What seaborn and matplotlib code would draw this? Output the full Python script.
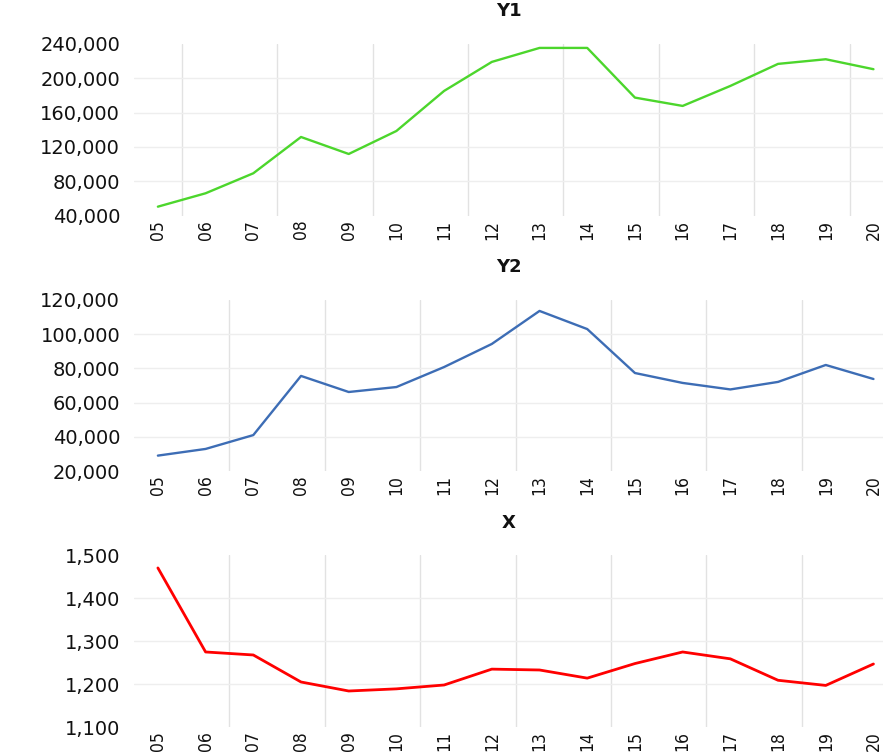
import numpy as np
import pandas as pd
import seaborn as sns
import matplotlib.pyplot as plt
from matplotlib.ticker import FuncFormatter, FixedLocator

years = ["05", "06", "07", "08", "09", "10", "11", "12",
         "13", "14", "15", "16", "17", "18", "19", "20"]
y1 = [50400, 66000, 89300, 131600, 111800, 138600, 185300, 219100,
      235400, 235400, 177500, 167800, 191100, 216800, 222200, 210600]
y2 = [29000, 32900, 41000, 75600, 66200, 69100, 80800, 94300,
      113600, 103000, 77300, 71500, 67700, 72100, 82000, 73800]
x_vals = [1471, 1275, 1268, 1205, 1184, 1189, 1198, 1235,
          1233, 1214, 1248, 1275, 1259, 1209, 1197, 1247]

df = pd.DataFrame({"year": years, "Y1": y1, "Y2": y2, "X": x_vals})

sns.set_theme(style="white")
plt.rcParams['font.family'] = ['DejaVu Sans']

fig = plt.figure(figsize=(8.83, 7.53), dpi=100)

# (column, colour, line width, ylim, yticks, axes rect, minor grid start)
panels = [
    ("Y1", "#4cd62c", 1.7, (40000, 240000), np.arange(40000, 240001, 40000),
     [0.1518, 0.7137, 0.8482, 0.2279], 0.5),
    ("Y2", "#3d6db5", 1.7, (20000, 120000), np.arange(20000, 120001, 20000),
     [0.1518, 0.3745, 0.8482, 0.2271], 1.5),
    ("X", "#ff0000", 2.0, (1100, 1500), np.arange(1100, 1501, 100),
     [0.1518, 0.0345, 0.8482, 0.2278], 1.5),
]

for col, color, lw, ylim, yticks, rect, vstart in panels:
    ax = fig.add_axes(rect)
    sns.lineplot(data=df, x="year", y=col, ax=ax, color=color, linewidth=lw)
    ax.set_xlim(-0.5, 15.2)
    ax.set_ylim(*ylim)
    ax.set_yticks(yticks)
    ax.yaxis.set_major_formatter(FuncFormatter(lambda v, p: f"{v:,.0f}"))
    ax.xaxis.set_minor_locator(FixedLocator(np.arange(vstart, 15.5, 2)))
    ax.grid(which="minor", axis="x", color="#e2e2e2", linewidth=1)
    ax.grid(which="major", axis="y", color="#eeeeee", linewidth=1)
    ax.grid(which="major", axis="x", visible=False)
    ylines = ax.get_ygridlines()
    ylines[0].set_visible(False)
    ylines[-1].set_visible(False)
    for s in ax.spines.values():
        s.set_visible(False)
    ax.set_xlabel("")
    ax.set_ylabel("")
    ax.tick_params(axis="both", which="both", length=0)
    ax.tick_params(axis="y", pad=10, labelsize=14, labelcolor="#111111")
    ax.tick_params(axis="x", pad=3, labelsize=12.5, labelrotation=90, labelcolor="#111111")
    for lab in ax.get_xticklabels():
        lab.set_fontstretch("condensed")
    ax.set_title(col, fontsize=13, pad=20, color="#111111", fontweight="semibold")

fig.savefig("out.png", dpi=100)
